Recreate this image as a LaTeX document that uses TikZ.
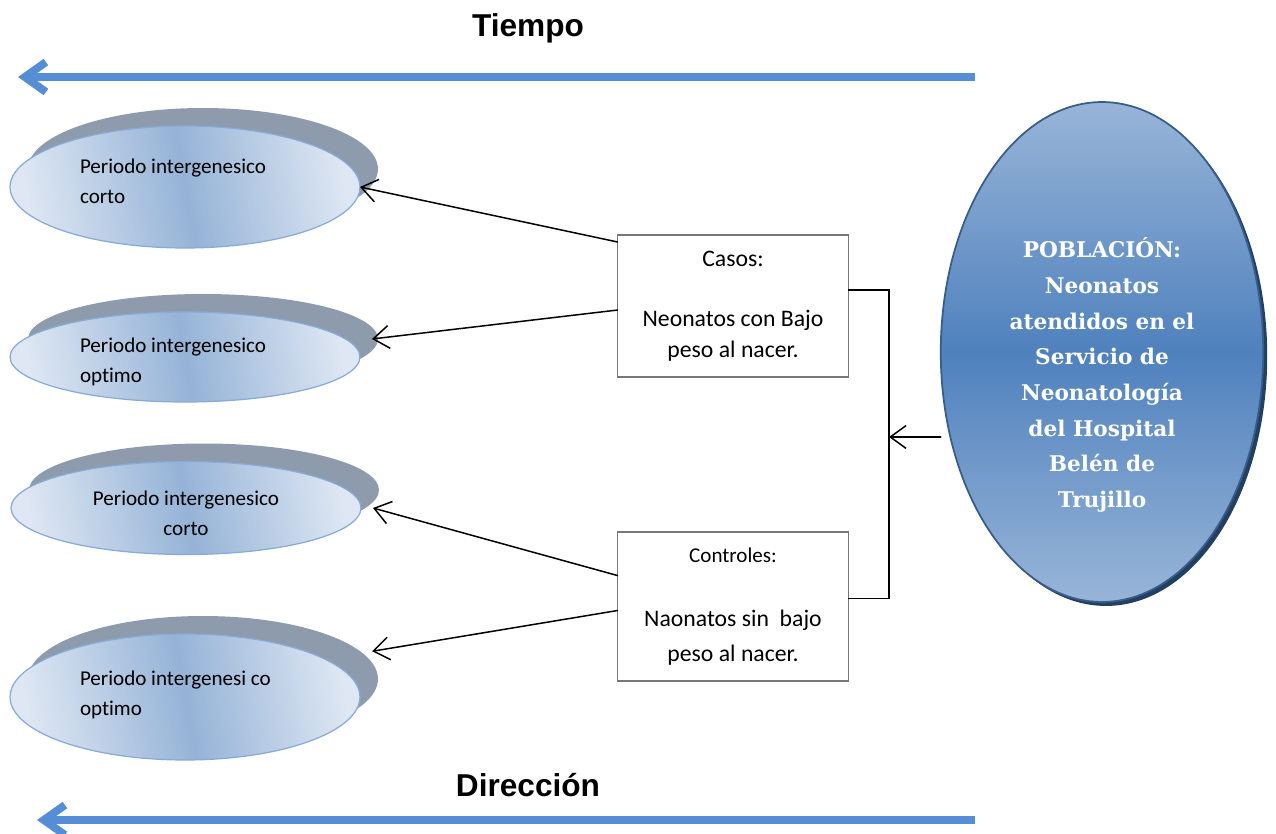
\documentclass[tikz,border=0pt]{standalone}
\usepackage{fontspec}
\setmainfont{Carlito}[Ligatures=NoCommon]
\newfontfamily\headfont{Liberation Sans}
\newfontfamily\pobfont{DejaVu Serif}
\usetikzlibrary{arrows.meta,shapes.geometric}

\definecolor{timeblue}{RGB}{85,142,213}
\definecolor{perlight}{RGB}{222,231,243}
\definecolor{permid}{RGB}{149,179,215}
\definecolor{peredge}{RGB}{135,170,215}
\definecolor{pergray}{RGB}{141,155,173}
\definecolor{pobtop}{RGB}{152,181,216}
\definecolor{pobmid}{RGB}{79,129,189}
\definecolor{pobedge}{RGB}{56,93,138}
\definecolor{pobshadow}{RGB}{36,64,97}
\definecolor{boxgray}{RGB}{120,120,120}

\begin{document}
\begin{tikzpicture}[x=0.02cm,y=-0.02cm,
  every node/.style={inner sep=0pt, outer sep=0pt},
  pershadow/.style={ellipse, fill=pergray, minimum width=7cm},
  perell/.style={ellipse, draw=peredge, line width=0.7pt, left color=perlight, right color=perlight, middle color=permid, shading angle=100, minimum width=7cm},
  pertext/.style={font=\fontsize{12}{17}\selectfont, align=left, anchor=west},
  groupbox/.style={draw=boxgray, line width=1.1pt, fill=white, minimum width=4.62cm, align=center, font=\fontsize{13.5}{17.5}\selectfont},
  link/.style={-{Straight Barb[length=9pt,width=13pt]}, line width=0.85pt, line cap=round},
  timearrow/.style={draw=timeblue, line width=4.5pt, -{Straight Barb[length=12pt,width=17pt]}},
  headlbl/.style={font=\headfont\bfseries\fontsize{18}{20}\selectfont}
]
\useasboundingbox (0,0) rectangle (1276,834);

\node[headlbl] (tiempo) at (528,28) {Tiempo};
\coordinate (tstart) at (975,77);
\coordinate (tend) at (18,77);
\draw[timearrow] (tstart) -- (tend);

\node[pershadow, minimum height=2.44cm] (e1s) at (203,169) {};
\node[perell, minimum height=2.44cm] (e1) at (185,187) {};
\node[pertext] (t1) at (80,181) {Periodo intergenesico\\corto};

\node[pershadow, minimum height=1.8cm] (e2s) at (203,339) {};
\node[perell, minimum height=1.8cm] (e2) at (185,357) {};
\node[pertext] (t2) at (80,362) {Periodo intergenesico\\optimo};

\node[pershadow, minimum height=1.86cm] (e3s) at (204,490) {};
\node[perell, minimum height=1.86cm] (e3) at (186,508) {};
\node[pertext, align=center, anchor=center] (t3) at (186,513) {Periodo intergenesico\\corto};

\node[pershadow, minimum height=2.52cm] (e4s) at (203,679) {};
\node[perell, minimum height=2.52cm] (e4) at (185,697) {};
\node[pertext] (t4) at (80,695) {Periodo intergenesi co\\optimo};

\node[groupbox, minimum height=2.84cm] (casos) at (733,306) {Casos:\\[17pt]Neonatos con Bajo\\peso al nacer.};
\node[groupbox, minimum height=2.98cm] (ctrl) at (733,606.5) {{\fontsize{12}{15}\selectfont Controles:}\\[19pt]Naonatos sin\ \ bajo\\[2pt]peso al nacer.};

\node[ellipse, fill=pobshadow, minimum width=6.45cm, minimum height=10cm] (pobsh) at (1106,356) {};
\node[ellipse, draw=pobedge, line width=1pt, top color=pobtop, bottom color=pobtop, middle color=pobmid, minimum width=6.45cm, minimum height=10cm] (pob) at (1102,352) {};
\node[text=white, align=center, font=\pobfont\bfseries\fontsize{12.3}{20.3}\selectfont] (pobtxt) at (1102,375) {POBLACIÓN:\\Neonatos\\atendidos en el\\Servicio de\\Neonatología\\del Hospital\\Belén de\\Trujillo};

\coordinate (join) at (889,437);
\draw[line width=0.85pt] (casos.8) -| (join) |- (ctrl.4);
\draw[link] (pob.west |- join) -- (join);

\draw[link] (casos.151) -- (e1.east);
\draw[link] (casos.182) -- ([xshift=-0.12cm]e2s.east);
\draw[link] (ctrl.165) -- ([xshift=0.24cm]e3.east);
\draw[link] (ctrl.182) -- ([xshift=0.24cm]e4s.10);

\node[headlbl] (direccion) at (528,785) {Dirección};
\coordinate (dstart) at (975,820);
\coordinate (dend) at (37,820);
\draw[timearrow] (dstart) -- (dend);
\end{tikzpicture}
\end{document}
